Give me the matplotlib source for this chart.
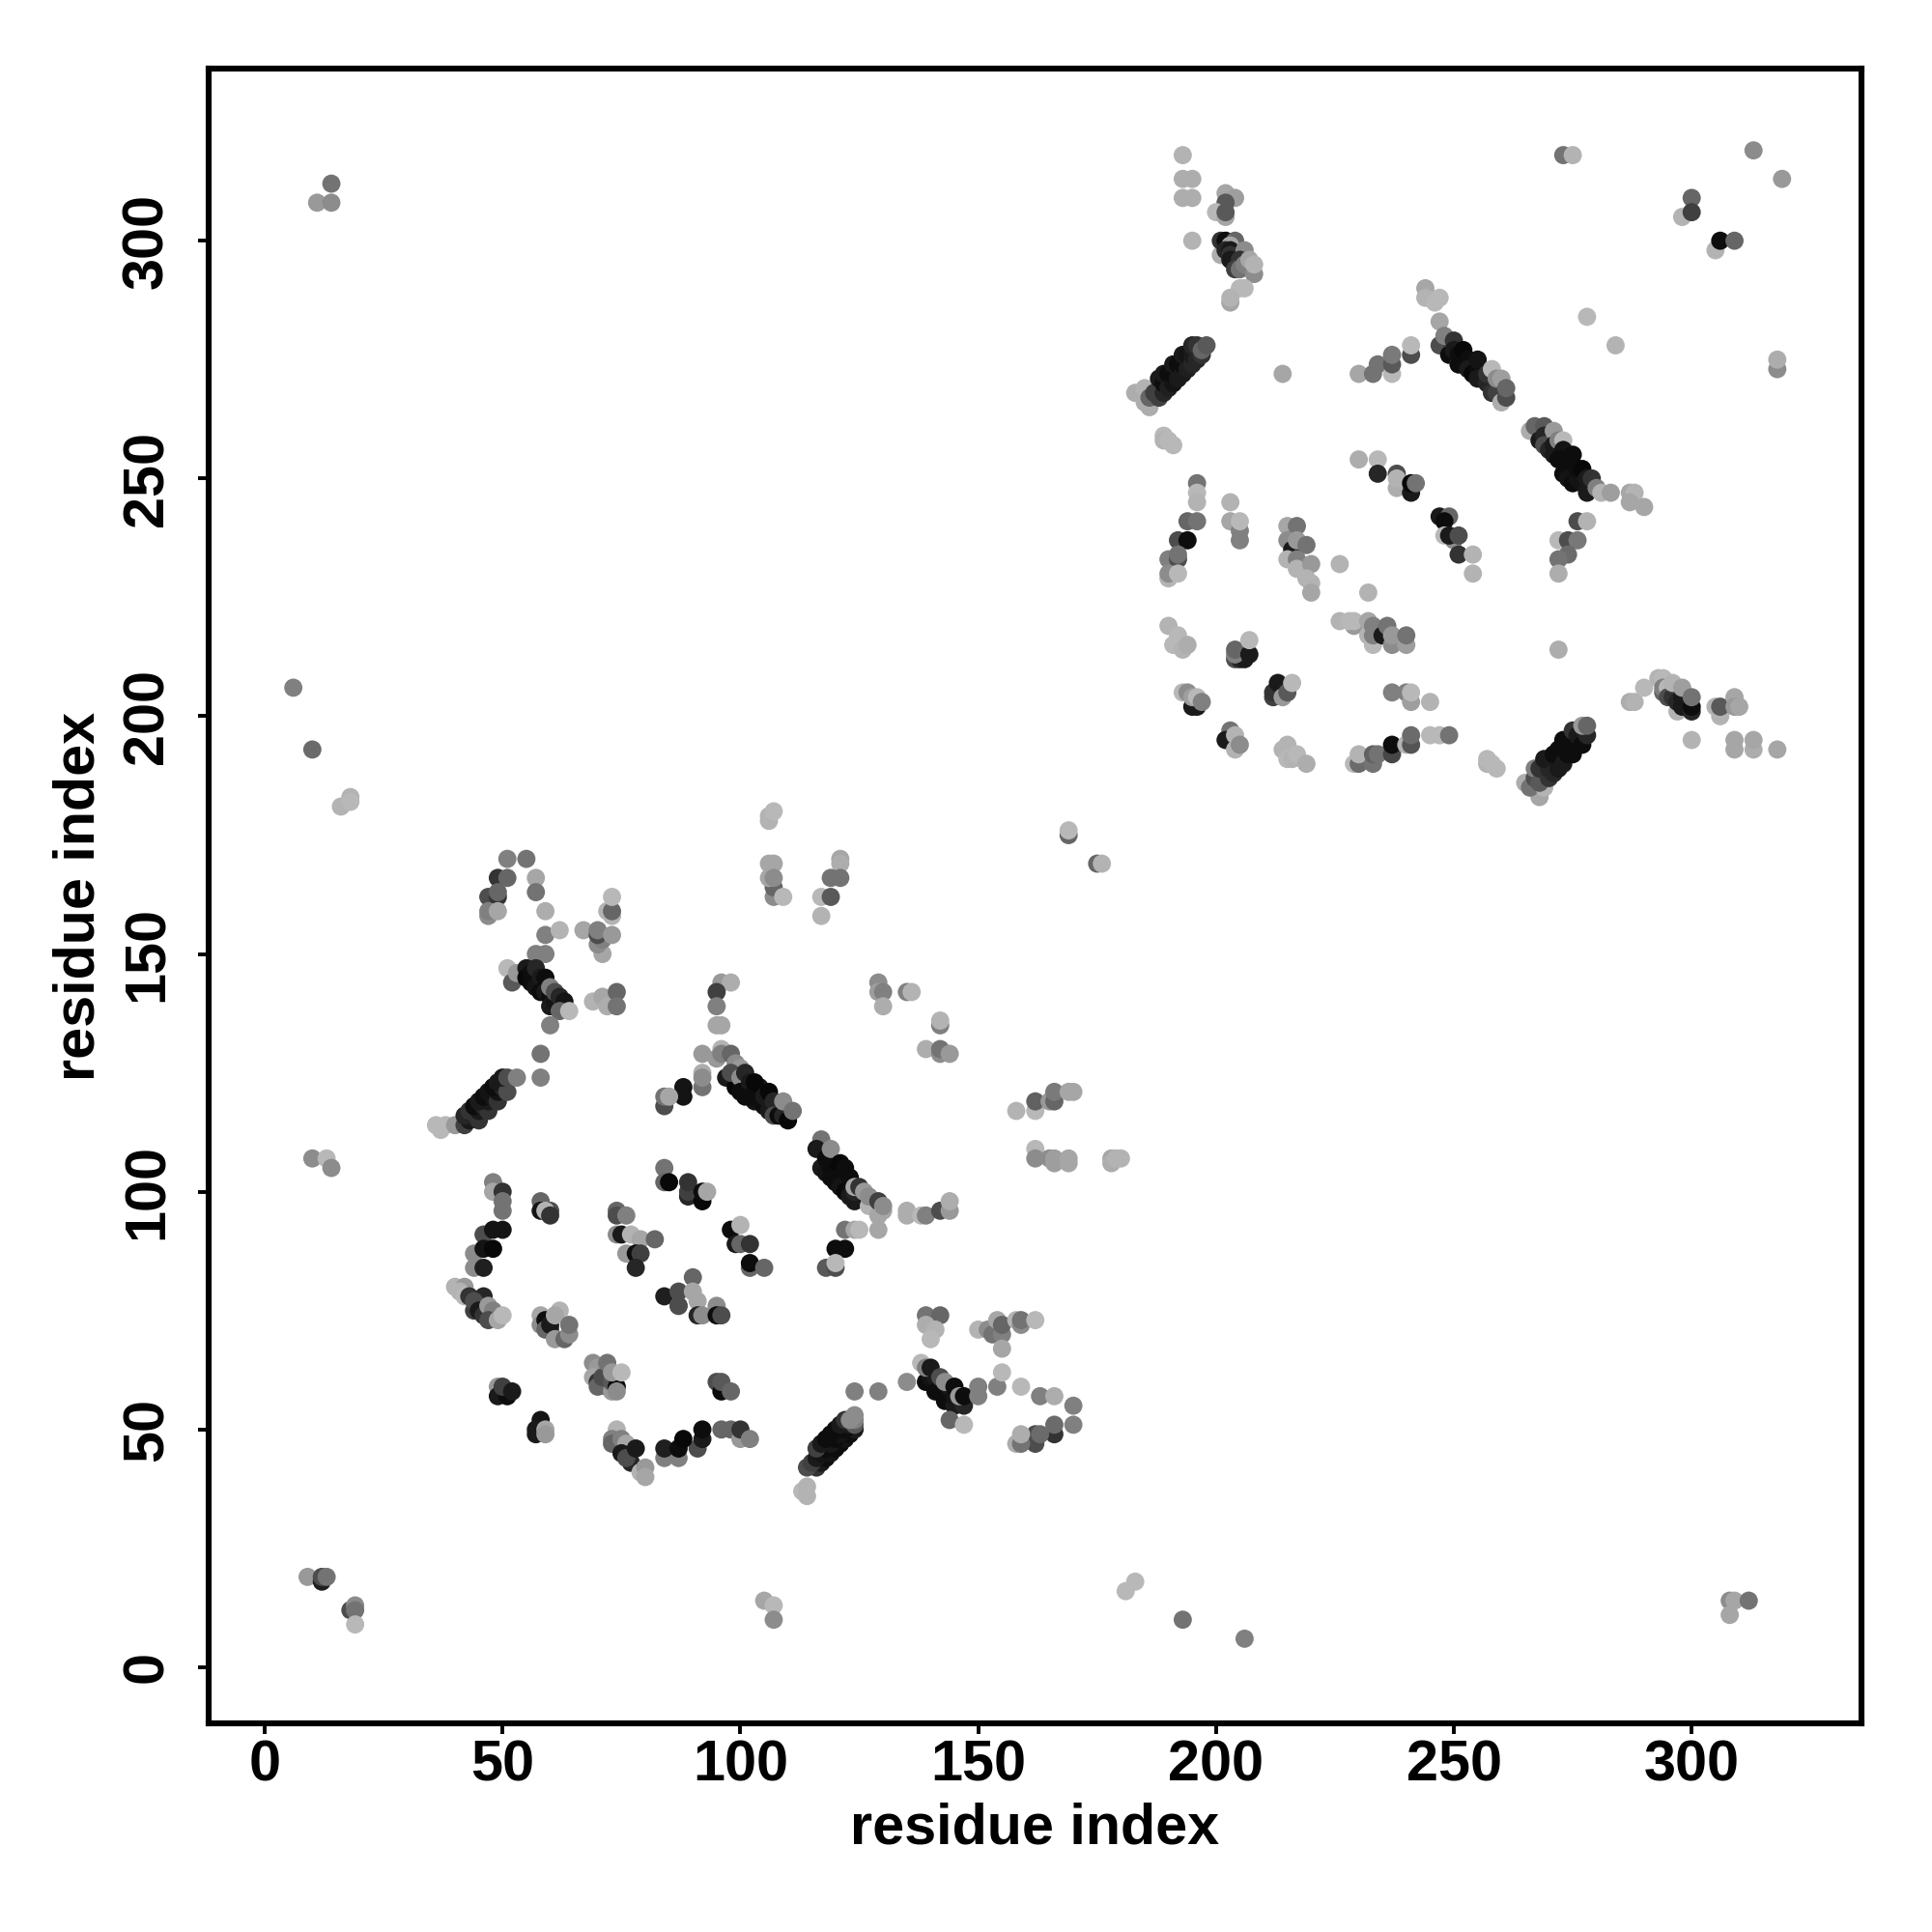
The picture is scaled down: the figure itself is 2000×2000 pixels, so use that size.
import numpy as np
import matplotlib
matplotlib.use("Agg")
import matplotlib.pyplot as plt

plt.rcParams['font.family'] = ['Liberation Sans', 'DejaVu Sans']

x_ticks = [0, 50, 100, 150, 200, 250, 300]
y_ticks = [0, 50, 100, 150, 200, 250, 300]
x_label = "residue index"
y_label = "residue index"

# each contact: (residue i, residue j, grey level)
far_contacts = [
    (6,206,.5),(10,193,.42),(16,181,.7),(18,183,.7),(18,182,.72),
    (10,107,.55),(13,107,.72),(14,105,.55),
    (11,308,.6),(14,312,.45),(14,308,.55),
    (9,19,.6),(12,18,.12),(12,19,.3),(13,19,.45),(18,12,.3),(19,13,.55),(19,12,.45),(19,9,.72),
    (105,14,.65),(107,13,.72),(107,10,.55),
    (181,16,.72),(183,18,.72),(193,10,.45),(206,6,.5),
    (308,14,.55),(309,14,.65),(308,11,.65),(312,14,.45),
]
d1_left = [
    (48,102,.5),(48,100,.65),(50,100,.2),(50,98,.45),(50,96,.45),
    (58,98,.4),(58,96,.08),(60,96,.3),(59,96,.7),(60,95,.2),
    (46,91,.3),(48,92,.08),(50,92,.08),(44,87,.55),(46,88,.08),(48,88,.03),(44,84,.55),(46,84,.12),
    (40,80,.7),(42,80,.6),(41,79,.7),(42,78,.72),(43,78,.2),(44,75,.25),(46,78,.15),(44,77,.3),(45,75,.1),(46,74,.2),
    (47,76,.6),(48,75,.5),(47,73,.3),(49,73,.65),(50,74,.72),
    (58,74,.65),(58,72,.55),(59,73,.05),(60,71,.25),(59,71,.4),(60,72,.1),(62,75,.7),(61,74,.65),(61,69,.6),(63,69,.4),(64,70,.55),(64,72,.45),
    (69,64,.55),(70,63,.6),(69,61,.65),(70,60,.2),(72,59,.3),(70,59,.4),(73,58,.6),(71,61,.3),(73,60,.35),(74,59,.05),(74,58,.55),(72,64,.45),(73,62,.6),(75,62,.72),
    (49,59,.6),(49,57,.1),(51,57,.05),(50,59,.25),(52,58,.1),
    (58,52,.08),(57,50,.1),(57,49,.1),(59,50,.65),(59,49,.6),
]
d1_bottom = [
    (74,50,.7),(73,48,.5),(73,47,.4),(75,48,.5),(76,47,.65),(75,45,.1),(77,43,.15),(76,44,.3),(78,46,.1),(79,41,.7),(80,42,.6),(80,40,.65),
    (84,44,.5),(87,44,.5),(84,46,.12),(87,46,.05),(91,46,.3),(88,48,.03),(92,48,.1),(92,50,.05),
    (96,50,.4),(98,50,.4),(100,48,.6),(100,50,.2),(102,48,.5),
    (95,60,.3),(96,58,.05),(96,60,.35),(98,58,.4),
    (113,37,.72),(114,36,.7),(114,38,.7),
    (116,42,.2),(117,43,.1),(118,44,.05),(119,45,.08),(120,46,.05),(121,47,.05),(122,48,.08),(123,49,.05),(124,50,.1),
    (114,42,.3),(115,43,.25),(116,44,.1),(117,45,.08),(118,46,.05),(119,47,.1),(120,48,.05),(121,49,.08),(122,50,.05),(123,51,.1),
    (116,46,.25),(117,47,.1),(118,48,.05),(119,49,.05),(120,50,.05),(121,51,.1),(122,52,.2),
    (124,51,.35),(124,52,.5),(123,52,.55),(124,53,.55),(124,58,.5),(129,58,.5),
]
d1_center = [
    (84,105,.45),(84,102,.4),(85,102,.03),(89,99,.15),(89,100,.25),(89,102,.2),(92,98,.03),(92,100,.05),(93,100,.65),
    (74,96,.4),(74,95,.3),(76,95,.5),(74,91,.55),(75,91,.1),(77,91,.7),(79,90,.65),(82,90,.4),(76,87,.6),(78,87,.05),(79,87,.25),(78,84,.15),
    (98,92,.05),(100,93,.7),(99,89,.1),(100,89,.4),(102,89,.2),(102,84,.4),(102,85,.05),(105,84,.4),
    (90,82,.4),(84,78,.12),(87,76,.55),(87,76,.3),(87,79,.3),(90,79,.65),(91,77,.65),(91,74,.15),(92,74,.55),(95,76,.55),(95,74,.05),(96,74,.3),
]
d1_diag = [
    (117,111,.45),(116,109,.1),(117,105,.1),(118,107,.05),(118,104,.08),(119,105,.05),(120,102,.05),(120,104,.03),(119,109,.55),(119,103,.05),
    (121,106,.03),(121,103,.05),(121,101,.08),(122,100,.03),(122,105,.05),(123,103,.05),(123,100,.05),(123,99,.1),(124,98,.1),(124,100,.15),
    (124,101,.65),(125,101,.2),(126,100,.6),(127,97,.7),(127,99,.55),(129,95,.65),(129,98,.25),(130,96,.65),(130,97,.55),
    (135,96,.68),(135,95,.68),(138,95,.72),(139,95,.5),(142,96,.3),(144,96,.6),(144,98,.68),
    (122,92,.45),(124,92,.65),(125,92,.72),(129,92,.65),(120,88,.05),(122,88,.05),(118,84,.35),(120,84,.3),(120,85,.72),
    (162,109,.72),(162,107,.55),(165,107,.55),(166,107,.62),(166,106,.62),(169,107,.65),(169,106,.65),
    (178,107,.65),(178,106,.68),(179,107,.7),(180,107,.7),
    (139,74,.45),(142,74,.4),(139,72,.68),(141,71,.7),(140,69,.72),
    (150,71,.7),(152,71,.55),(153,70,.45),(154,73,.65),(155,70,.5),(155,72,.4),(158,73,.7),(159,72,.55),(159,73,.45),(162,73,.72),(155,67,.65),
    (135,60,.55),(138,64,.72),(139,60,.05),(140,61,.08),(141,58,.05),(141,61,.1),(142,59,.05),(143,56,.05),(144,57,.05),(145,55,.1),(144,59,.1),(145,57,.08),
    (139,63,.5),(140,63,.1),(142,61,.3),(143,60,.55),(146,56,.1),
    (145,59,.05),(147,55,.15),(146,57,.6),(147,57,.05),
    (150,59,.5),(150,57,.5),(154,59,.5),(155,62,.72),(159,59,.72),(163,57,.5),(166,57,.68),(170,55,.5),(170,51,.5),
    (166,49,.2),(166,51,.42),(162,47,.3),(162,49,.3),(163,49,.42),(158,47,.68),(159,47,.45),(159,49,.68),
    (144,52,.4),(147,51,.72),
]
d1_top = [
    (51,170,.5),(55,170,.45),(49,166,.2),(51,166,.4),(57,166,.65),(57,163,.45),(47,162,.3),(49,162,.2),(49,163,.4),
    (47,158,.55),(47,159,.5),(49,159,.65),(59,159,.68),(59,154,.5),(62,155,.7),(67,155,.65),
    (71,150,.65),(70,152,.55),(71,153,.5),(70,154,.3),(70,155,.5),(73,154,.6),(72,159,.7),(73,158,.7),(73,159,.4),(73,162,.72),
    (57,150,.5),(59,150,.5),(51,147,.72),(52,144,.35),(53,146,.6),(55,147,.1),(55,145,.03),(56,146,.05),(56,144,.05),(57,143,.08),(57,147,.15),(58,145,.1),(59,145,.05),
    (58,142,.05),(59,142,.1),(60,141,.05),(60,139,.1),(61,140,.08),(60,143,.5),(61,142,.3),(62,141,.15),(63,140,.08),(62,138,.4),(64,138,.72),(60,135,.5),
    (58,129,.45),(58,124,.5),
    (69,140,.7),(71,141,.65),(72,139,.68),(74,142,.4),(74,139,.45),
    (36,114,.72),(37,113,.72),(38,114,.72),(40,114,.6),(42,114,.25),(43,115,.1),(42,116,.15),(43,117,.2),(45,115,.2),(45,117,.1),(44,118,.05),
    (46,118,.15),(47,117,.2),(45,119,.1),(47,119,.1),(46,120,.05),(48,120,.1),(47,121,.08),(49,119,.2),(49,121,.08),(48,122,.05),(50,122,.15),(49,123,.1),(51,121,.3),(50,124,.1),(51,124,.3),(53,124,.5),
    (96,144,.6),(98,144,.68),(95,142,.25),(95,139,.5),(95,135,.65),(96,135,.65),
    (92,129,.6),(96,130,.7),(95,128,.6),(96,129,.5),(98,129,.4),(97,124,.1),(99,122,.03),(99,127,.55),(100,126,.6),(98,125,.3),(100,124,.55),(101,125,.15),
    (100,121,.05),(101,120,.05),(102,123,.1),(104,122,.1),(103,119,.08),(102,120,.05),(103,123,.03),(105,118,.05),(105,120,.1),(106,121,.03),(106,117,.1),(107,119,.15),(107,116,.3),(108,116,.05),(109,116,.15),(109,119,.55),(110,115,.03),(111,117,.45),
    (92,125,.68),(92,122,.45),(92,124,.55),(88,122,.08),(88,120,.08),(84,118,.3),(84,120,.45),(85,120,.65),
    (106,178,.7),(106,179,.7),(107,180,.72),(106,169,.65),(107,169,.65),(107,162,.55),(107,164,.4),(106,166,.65),(107,166,.55),(109,162,.72),
    (121,170,.65),(121,169,.68),(119,166,.45),(121,166,.45),(117,162,.72),(119,162,.35),(117,158,.7),
    (129,144,.55),(129,142,.62),(130,142,.5),(130,139,.68),(135,142,.5),(136,142,.7),(142,135,.5),(142,136,.7),
    (139,130,.68),(142,129,.55),(142,130,.45),(144,129,.6),
    (158,117,.7),(162,117,.72),(162,119,.38),(165,119,.6),(166,119,.4),(166,121,.48),(169,121,.65),(170,121,.65),
    (169,175,.4),(169,176,.72),(175,169,.4),(176,169,.7),
]
d2_top = [
    (193,318,.7),(193,313,.68),(195,313,.68),(193,309,.68),(195,309,.68),(195,300,.7),
    (202,310,.65),(204,309,.62),(202,308,.35),(200,306,.72),(202,305,.65),(202,306,.35),
    (201,297,.68),(201,300,.2),(202,300,.05),(204,300,.4),(203,299,.65),(202,298,.15),(203,298,.1),(203,297,.2),(206,298,.55),(203,296,.1),(205,296,.2),
    (204,294,.25),(205,294,.45),(206,295,.5),(208,293,.55),(207,296,.65),(208,295,.7),
    (206,290,.72),(205,290,.72),(203,287,.65),(203,288,.7),
    (183,268,.68),(185,269,.7),(186,265,.68),(185,266,.68),(186,267,.4),(187,268,.25),(188,267,.25),(188,271,.1),(189,268,.15),(189,270,.05),(189,272,.1),(190,269,.12),
    (190,272,.05),(191,270,.08),(191,272,.05),(191,274,.1),(192,271,.1),(192,274,.05),(193,272,.1),(193,274,.05),(193,276,.1),(194,273,.12),(194,276,.08),(195,274,.15),(195,276,.1),(195,278,.15),(196,275,.15),(196,278,.2),(197,276,.2),(197,277,.4),(198,278,.35),
    (214,272,.65),(189,259,.72),(189,258,.7),(190,258,.72),(191,257,.72),
    (230,272,.65),(233,272,.45),(234,274,.45),(237,272,.72),(237,274,.35),(237,276,.48),(241,276,.3),(241,278,.72),
    (244,290,.65),(244,288,.7),(246,287,.72),(247,288,.72),(247,283,.65),(247,278,.3),(248,280,.5),
    (249,276,.05),(250,279,.2),(250,277,.1),(251,274,.5),(251,274,.05),(251,276,.05),(252,277,.03),(253,275,.05),(253,273,.1),(254,272,.05),(254,272,.03),(255,273,.05),(255,271,.1),(255,275,.08),(256,271,.1),
    (257,270,.15),(257,272,.2),(258,268,.2),(258,273,.72),(259,268,.25),(259,271,.55),(260,266,.68),(261,267,.3),(260,271,.62),(261,269,.4),
    (230,254,.68),(234,254,.72),(234,251,.15),(238,248,.68),(238,251,.3),(238,250,.7),(241,247,.1),(241,249,.03),(242,249,.45),
]
d2_right = [
    (266,260,.68),(267,261,.4),(269,261,.35),(268,258,.1),(269,259,.15),(269,257,.3),(270,256,.15),(271,260,.6),(271,257,.1),(271,255,.1),(272,258,.5),(273,258,.72),(273,256,.08),(272,254,.05),(273,254,.05),
    (273,251,.05),(274,252,.05),(274,250,.08),(275,255,.05),(275,249,.05),(276,250,.08),(276,252,.05),(277,249,.08),(277,252,.03),(278,250,.1),(278,247,.1),(279,250,.2),(280,248,.5),(281,247,.7),(283,247,.62),
    (287,247,.65),(288,247,.7),(287,245,.65),(290,244,.65),
    (276,241,.3),(278,241,.7),(272,237,.72),(274,237,.3),(276,237,.47),(274,234,.42),(272,233,.45),(272,230,.68),(272,214,.68),
    (278,284,.72),(284,278,.7),(318,273,.55),(318,275,.68),
    (273,318,.45),(275,318,.7),(313,319,.55),(319,313,.6),(298,305,.7),(300,309,.4),(300,306,.25),(305,298,.7),(306,300,.05),(309,300,.4),
]
d2_center = [
    (196,249,.45),(196,247,.72),(196,245,.7),(203,245,.7),(203,241,.65),(205,239,.5),(205,241,.72),(205,237,.5),
    (194,241,.4),(196,241,.45),(192,237,.3),(194,237,.05),(190,233,.5),(192,233,.3),(192,234,.45),(190,229,.7),(190,230,.55),(192,230,.72),
    (215,240,.65),(217,240,.45),(215,237,.55),(216,235,.1),(217,237,.6),(219,236,.45),(215,233,.7),(217,233,.5),(217,231,.7),(220,232,.6),
    (219,229,.7),(220,228,.7),(220,226,.65),(226,232,.7),(232,226,.7),
    (226,220,.7),(229,219,.6),(228,220,.72),(229,220,.72),(232,217,.7),(233,215,.72),(232,220,.65),(233,219,.5),(233,217,.5),
    (235,217,.1),(236,219,.45),(237,215,.55),(237,217,.6),(240,215,.62),(240,217,.45),
    (247,242,.1),(249,242,.4),(248,241,.05),(248,238,.72),(250,237,.55),(249,238,.1),(251,238,.3),(251,234,.2),(254,234,.7),(254,230,.7),
    (190,219,.7),(192,217,.72),(191,215,.72),(193,214,.7),(194,215,.68),
    (204,212,.3),(205,212,.15),(206,212,.1),(204,213,.5),(204,214,.4),(207,213,.1),(207,216,.72),
    (193,205,.72),(194,205,.55),(195,202,.1),(196,202,.1),(195,204,.62),(196,204,.72),(197,203,.5),
    (212,204,.25),(212,205,.2),(213,207,.1),(214,204,.6),(215,205,.35),(216,207,.72),
    (203,197,.45),(202,195,.1),(204,193,.7),(204,196,.7),(205,194,.55),
    (215,194,.7),(214,193,.7),(215,191,.72),(216,191,.7),(217,192,.72),(219,190,.68),
    (229,190,.72),(230,190,.42),(230,192,.7),(233,190,.45),(233,192,.38),(234,192,.45),(237,192,.28),(237,194,.05),(240,194,.7),
    (241,194,.33),(241,196,.42),(245,196,.72),(247,196,.72),(249,196,.45),
    (237,205,.5),(240,205,.5),(241,203,.62),(241,205,.72),(245,203,.7),
]
d2_bottom = [
    (257,190,.7),(257,191,.72),(258,190,.72),(259,189,.72),
    (265,186,.68),(268,183,.65),(266,185,.45),(269,185,.7),(267,187,.3),(267,189,.5),(268,186,.35),(268,189,.2),(270,187,.2),(270,189,.15),(270,191,.1),(269,191,.1),(271,188,.15),(272,189,.1),
    (271,192,.05),(272,193,.05),(273,190,.1),(274,192,.05),(273,195,.05),(274,195,.05),(275,192,.05),(276,194,.05),(275,197,.2),(276,196,.1),(277,194,.05),(278,196,.15),(277,198,.6),(278,198,.4),
    (287,203,.68),(288,203,.7),(290,206,.72),(293,208,.7),(294,208,.72),(294,205,.4),(294,206,.5),(295,206,.72),(295,204,.3),(296,204,.2),(296,207,.7),
    (297,201,.7),(297,203,.15),(298,202,.1),(298,204,.1),(298,206,.62),(299,202,.1),(300,201,.15),(300,202,.05),(300,204,.45),(300,195,.7),
    (305,202,.7),(306,200,.7),(306,202,.35),(309,204,.65),(309,202,.6),(310,202,.65),
    (309,193,.65),(309,195,.65),(313,193,.68),(313,195,.65),(318,193,.65),
]

groups = [far_contacts, d1_left, d1_bottom, d1_center, d1_diag, d1_top,
          d2_top, d2_right, d2_center, d2_bottom]

fig = plt.figure(figsize=(10, 10), dpi=200, facecolor='white')
ax = fig.add_axes([216/2000, 1 - 1784/2000, (1927-216)/2000, (1784-71)/2000])

for group in groups:
    xs = [p[0] for p in group]
    ys = [p[1] for p in group]
    cs = [str(p[2]) for p in group]
    ax.scatter(xs, ys, s=46, c=cs, linewidths=0, zorder=3)

ax.set_xlim(-11.8, 335.7)
ax.set_ylim(-11.8, 336.2)
ax.set_xticks(x_ticks)
ax.set_yticks(y_ticks)
for s in ax.spines.values():
    s.set_linewidth(2.2)
ax.tick_params(axis='both', length=3.8, width=1.4, labelsize=21.4)
ax.tick_params(axis='x', pad=2)
ax.tick_params(axis='y', pad=9)
for t in ax.get_xticklabels():
    t.set_fontweight('bold')
for t in ax.get_yticklabels():
    t.set_fontweight('bold')
    t.set_rotation(90)
    t.set_verticalalignment('center')
ax.set_xlabel(x_label, fontsize=21.4, fontweight='bold')
ax.set_ylabel(y_label, fontsize=21.4, fontweight='bold')
ax.xaxis.set_label_coords(0.5, -(1893-1784)/1713, transform=ax.transAxes)
ax.xaxis.label.set_verticalalignment('center')
ax.yaxis.set_label_coords(-(216-82)/1711, 0.5, transform=ax.transAxes)
ax.yaxis.label.set_verticalalignment('center')

fig.savefig("out.png", dpi=200, facecolor='white')
